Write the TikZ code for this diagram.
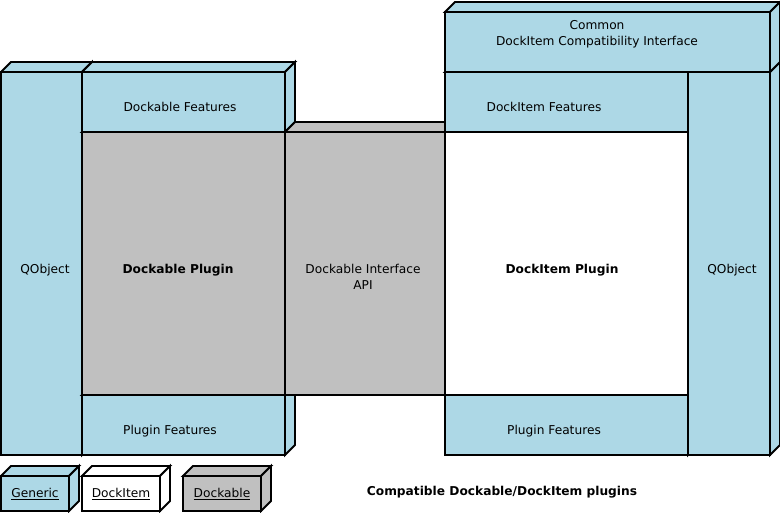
\documentclass[tikz,border=0pt]{standalone}
\usepackage{fontspec}
\setmainfont{DejaVu Sans}
\definecolor{lblue}{HTML}{ADD8E6}
\definecolor{lgray}{HTML}{C0C0C0}
\newcommand\mycube[6]{%
  \filldraw[fill=#6] (#2,#3) -- ({#2+10},{#3-10}) -- ({#4+10},{#3-10}) -- (#4,#3) -- cycle;
  \filldraw[fill=#6] (#4,#3) -- ({#4+10},{#3-10}) -- ({#4+10},{#5-10}) -- (#4,#5) -- cycle;
  \node[front, fill=#6, minimum width={(#4-#2)*1pt}, minimum height={(#5-#3)*1pt}] (#1) at ({(#2+#4)/2},{(#3+#5)/2}) {};
}
\begin{document}
\begin{tikzpicture}[x=1pt,y=-1pt, line width=1.9pt, line join=miter,
  front/.style={draw, rectangle, inner sep=0pt, outer sep=0pt},
  lbl/.style={font=\fontsize{12.2}{16}\selectfont, align=center, inner sep=0pt},
  blbl/.style={lbl, font=\fontsize{12.2}{16}\selectfont\bfseries}]
\useasboundingbox (0,0) rectangle (780,513);
% left group
\mycube{qleft}{1}{72}{82}{455}{lblue}
\mycube{pfleft}{82}{395}{285}{455}{lblue}
\mycube{dplug}{82}{132}{285}{395}{lgray}
\mycube{dfeat}{82}{72}{285}{132}{lblue}
\mycube{dint}{285}{132}{445}{395}{lgray}
% right group
\mycube{pfright}{445}{395}{688}{455}{lblue}
\mycube{diplug}{445}{132}{688}{395}{white}
\mycube{difeat}{445}{72}{688}{132}{lblue}
\mycube{qright}{688}{72}{770}{455}{lblue}
\mycube{common}{445}{12}{770}{72}{lblue}
% legend
\mycube{lgen}{1}{476}{69}{511}{lblue}
\mycube{ldi}{82}{476}{160}{511}{white}
\mycube{ldo}{183}{476}{261}{511}{lgray}
% labels
\node[lbl] (tqleft) at (45,270) {QObject};
\node[lbl] (tdfeat) at (180,107) {Dockable Features};
\node[blbl] (tdplug) at (178,270) {Dockable Plugin};
\node[lbl] (tpfleft) at (170,431) {Plugin Features};
\node[lbl] (tdint) at (363,277) {Dockable Interface\\API};
\node[lbl] (tdifeat) at (544,107) {DockItem Features};
\node[blbl] (tdiplug) at (562,270) {DockItem Plugin};
\node[lbl] (tpfright) at (554,431) {Plugin Features};
\node[lbl] (tqright) at (732,270) {QObject};
\node[lbl] (tcommon) at (597,34) {Common\\DockItem Compatibility Interface};
\node[lbl] (tlgen) at (35,494) {\underline{Generic}};
\node[lbl] (tldi) at (121,494) {\underline{DockItem}};
\node[lbl] (tldo) at (222,494) {\underline{Dockable}};
\node[blbl] (ttitle) at (502,492) {Compatible Dockable/DockItem plugins};
\end{tikzpicture}
\end{document}
